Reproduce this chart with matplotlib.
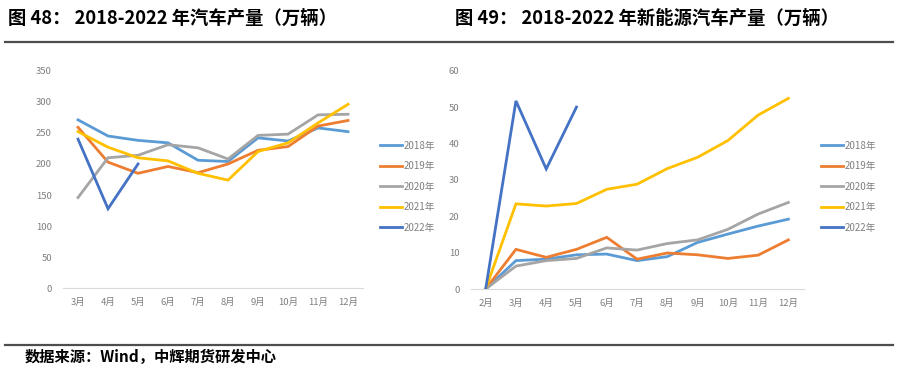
import numpy as np
import matplotlib
matplotlib.use('Agg')
import matplotlib.pyplot as plt
from matplotlib.lines import Line2D

plt.rcParams['font.family'] = ['Noto Sans CJK SC', 'DejaVu Sans']

# 汽车产量（万辆）
months_car = ['3月', '4月', '5月', '6月', '7月', '8月', '9月', '10月', '11月', '12月']
car_2018 = [271, 245, 238, 234, 206, 204, 242, 237, 258, 252]
car_2019 = [259, 203, 185, 196, 186, 200, 222, 228, 261, 270]
car_2020 = [146, 210, 214, 231, 226, 208, 246, 248, 279, 280]
car_2021 = [252, 227, 210, 205, 185, 174, 220, 234, 266, 296]
car_2022 = [240, 128, 200]

# 新能源汽车产量（万辆）
months_nev = ['2月', '3月', '4月', '5月', '6月', '7月', '8月', '9月', '10月', '11月', '12月']
nev_2018 = [0, 7.8, 8.2, 9.4, 9.6, 7.8, 8.9, 12.8, 15.1, 17.3, 19.2]
nev_2019 = [0, 10.9, 8.7, 10.9, 14.2, 8.2, 9.9, 9.4, 8.4, 9.3, 13.5]
nev_2020 = [0, 6.3, 7.8, 8.4, 11.3, 10.7, 12.5, 13.5, 16.4, 20.6, 23.8]
nev_2021 = [0, 23.4, 22.8, 23.5, 27.4, 28.8, 33.1, 36.2, 40.8, 47.8, 52.4]
nev_2022 = [0, 51.7, 33.0, 50.0]

years = ['2018年', '2019年', '2020年', '2021年', '2022年']
colors = ['#5B9BD5', '#ED7D31', '#A5A5A5', '#FFC000', '#4472C4']
tick_color = '#7F7F7F'

fig = plt.figure(figsize=(8.99, 3.70), dpi=100)
ax1 = fig.add_axes([0.0701, 0.2208, 0.3337, 0.588])
ax2 = fig.add_axes([0.5234, 0.2189, 0.3704, 0.590])


def style(ax, labels, ymax, ystep):
    n = len(labels)
    ax.set_xlim(-0.5, n - 0.5)
    ax.set_ylim(0, ymax)
    ax.set_xticks(range(n))
    ax.set_xticklabels(labels)
    ax.set_yticks(np.arange(0, ymax + 1, ystep))
    for s in ['top', 'right', 'left']:
        ax.spines[s].set_visible(False)
    ax.spines['bottom'].set_color('#D9D9D9')
    ax.tick_params(axis='both', length=0, labelsize=6.8, colors=tick_color, pad=7)
    ax.tick_params(axis='y', pad=8)


def legend(ax, xpos):
    ax.legend(loc='center left', bbox_to_anchor=(xpos, 0.495), bbox_transform=fig.transFigure,
              frameon=False, fontsize=7, labelspacing=1.08, handlelength=2.3,
              handletextpad=0.15, labelcolor=tick_color)


series_car = [car_2018, car_2019, car_2020, car_2021, car_2022]
for vals, c, lab in zip(series_car, colors, years):
    ax1.plot(range(len(vals)), vals, color=c, lw=2, label=lab, solid_joinstyle='miter')
style(ax1, months_car, 350, 50)
legend(ax1, 0.413)

series_nev = [nev_2018, nev_2019, nev_2020, nev_2021, nev_2022]
for vals, c, lab in zip(series_nev, colors, years):
    ax2.plot(range(len(vals)), vals, color=c, lw=2, label=lab, solid_joinstyle='miter')
style(ax2, months_nev, 60, 10)
legend(ax2, 0.903)

# titles and rules
fig.text(8 / 899, 1 - 18 / 370, '图 48： 2018-2022 年汽车产量（万辆）', fontsize=13.2,
         fontweight='bold', va='center', ha='left')
fig.text(455 / 899, 1 - 18 / 370, '图 49： 2018-2022 年新能源汽车产量（万辆）', fontsize=13.2,
         fontweight='bold', va='center', ha='left')
fig.add_artist(Line2D([5 / 899, 893 / 899], [1 - 42 / 370] * 2, color='#4D4D4D', lw=1.6))
fig.add_artist(Line2D([5 / 899, 893 / 899], [1 - 345 / 370] * 2, color='#4D4D4D', lw=1.6))
fig.text(25 / 899, 1 - 357 / 370, '数据来源：Wind，中辉期货研发中心', fontsize=11,
         fontweight='bold', va='center', ha='left')

fig.savefig('out.png', dpi=100)
